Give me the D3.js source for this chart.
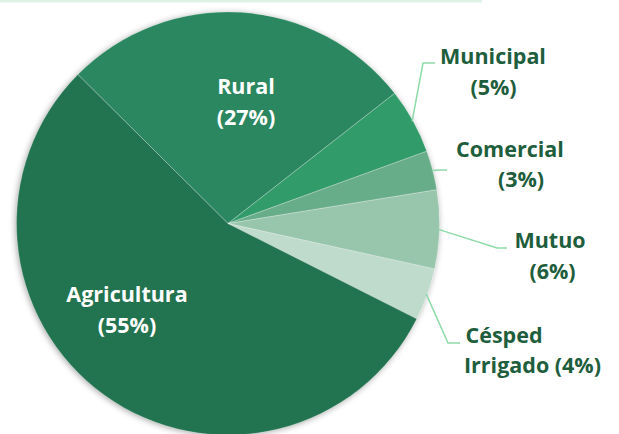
<!DOCTYPE html>
<head>
    <meta charset="utf-8">
    <title>Uso del agua</title>
    <script src="https://cdn.jsdelivr.net/npm/d3@7"></script>
    <style>
        body { margin: 0; background: #fff; }
        svg { display: block; }
    </style>
</head>
<body>
<div id="container"></div>

<script>

// Données
const categories = ["Rural", "Municipal", "Comercial", "Mutuo", "Césped Irrigado", "Agricultura"];
const values = [27, 5, 3, 6, 4, 55];
const labelLines = [
    ["Rural", "(27%)"],
    ["Municipal", "(5%)"],
    ["Comercial", "(3%)"],
    ["Mutuo", "(6%)"],
    ["Césped", "Irrigado (4%)"],
    ["Agricultura", "(55%)"]
];
const colors = ["#2b8760", "#339b6b", "#68ad89", "#98c6ad", "#bedbcb", "#247350"];

const width = 619;
const height = 434;
const cx = 228;
const cy = 223.5;
const radius = 211.5;

const svg = d3.create("svg")
    .attr("width", width)
    .attr("height", height);

// bande en haut
svg.append("rect")
    .attr("x", 0).attr("y", 0)
    .attr("width", 482).attr("height", 2.5)
    .attr("fill", "#dff2e6");

const defs = svg.append("defs");
const filt = defs.append("filter").attr("id", "ombre")
    .attr("x", "-10%").attr("y", "-10%").attr("width", "120%").attr("height", "120%");
filt.append("feDropShadow")
    .attr("dx", -1).attr("dy", 1)
    .attr("stdDeviation", 3)
    .attr("flood-color", "#000")
    .attr("flood-opacity", 0.35);

// angle de départ (Rural commence en haut à gauche)
const startAngle = -45.2 * Math.PI / 180;

const pie = d3.pie()
    .sort(null)
    .value(d => d)
    .startAngle(startAngle)
    .endAngle(startAngle + 2 * Math.PI);

const arcs = pie(values);

const arc = d3.arc()
    .innerRadius(0)
    .outerRadius(radius);

const g = svg.append("g")
    .attr("transform", `translate(${cx},${cy})`);

g.append("g")
    .attr("filter", "url(#ombre)")
    .selectAll("path")
    .data(arcs)
    .enter().append("path")
    .attr("d", arc)
    .attr("fill", (d, i) => colors[i]);

g.append("g")
    .selectAll("path")
    .data(arcs)
    .enter().append("path")
    .attr("d", arc)
    .attr("fill", "none")
    .attr("stroke", "#ffffff")
    .attr("stroke-opacity", 0.35)
    .attr("stroke-width", 0.6);

// Positions des étiquettes (x, y de chaque ligne, en coordonnées de la page)
const labelPos = [
    { lines: [[246, 94], [246, 125]], anchor: "middle", fill: "#ffffff" },
    { lines: [[493, 64], [493.5, 95]], anchor: "middle", fill: "#1e5e3d", elbow: [423, 63], end: [435, 63] },
    { lines: [[510, 157], [521, 187]], anchor: "middle", fill: "#1e5e3d", elbow: [440, 170], end: [447, 170] },
    { lines: [[550, 248], [552.5, 279]], anchor: "middle", fill: "#1e5e3d", elbow: [497, 248], end: [507, 248] },
    { lines: [[504, 343], [532.5, 373]], anchor: "middle", fill: "#1e5e3d", elbow: [448, 343], end: [460, 343] },
    { lines: [[127, 302], [127, 333]], anchor: "middle", fill: "#ffffff" }
];

// Lignes de rappel
const outer = d3.arc().innerRadius(radius - 1).outerRadius(radius - 1);
arcs.forEach((d, i) => {
    const p = labelPos[i];
    if (!p.elbow) return;
    const c = outer.centroid(d);
    const start = [c[0] + cx, c[1] + cy];
    svg.append("polyline")
        .attr("points", [start, p.elbow, p.end].map(q => q.join(",")).join(" "))
        .attr("fill", "none")
        .attr("stroke", "#8edaa8")
        .attr("stroke-width", 1.5);
});

// Textes
labelLines.forEach((lines, i) => {
    const p = labelPos[i];
    lines.forEach((t, j) => {
        svg.append("text")
            .attr("x", p.lines[j][0])
            .attr("y", p.lines[j][1])
            .attr("text-anchor", p.anchor)
            .attr("fill", p.fill)
            .style("font-family", "'Open Sans', 'Noto Sans', sans-serif")
            .style("font-weight", "700")
            .style("font-size", "21.5px")
            .text(t);
    });
});

container.append(svg.node());

</script>
</body>
